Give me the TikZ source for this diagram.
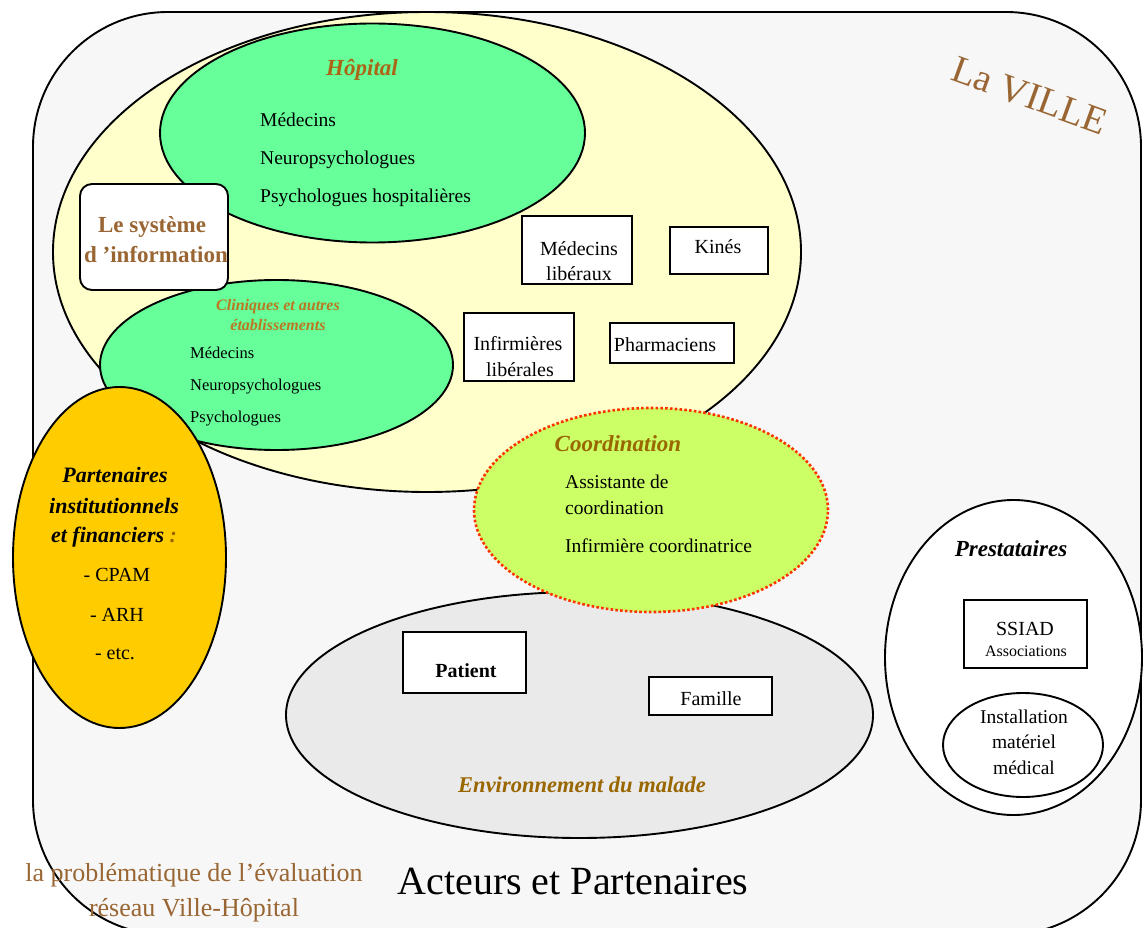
\documentclass[tikz,border=0pt]{standalone}
\usepackage{fontspec}
\setmainfont{Liberation Serif}
\usetikzlibrary{shapes.geometric}

\definecolor{framefill}{HTML}{F7F7F7}
\definecolor{cityyellow}{HTML}{FFFFCC}
\definecolor{mintgreen}{HTML}{66FF99}
\definecolor{gold}{HTML}{FFCC00}
\definecolor{limegreen}{HTML}{CCFF66}
\definecolor{envgray}{HTML}{EAEAEA}
\definecolor{dotred}{HTML}{FF3300}
\definecolor{brownA}{HTML}{996633}
\definecolor{brownB}{HTML}{AA6616}
\definecolor{brownC}{HTML}{BB7722}
\definecolor{olive}{HTML}{996600}

\newcommand\fsz[1]{\fontsize{#1}{#1}\selectfont}

\tikzset{
  oval/.style={ellipse, draw=black, line width=1.9pt, inner sep=0pt},
  boxnode/.style={rectangle, draw=black, fill=white, line width=1.9pt, inner sep=0pt},
  txt/.style={anchor=base, inner sep=0pt},
  txtw/.style={anchor=base west, inner sep=0pt},
}

\begin{document}
\begin{tikzpicture}[x=1pt, y=-1pt]
\useasboundingbox (0,0) rectangle (1143,928);

% the city frame
\node[rectangle, draw=black, fill=framefill, line width=1.9pt, rounded corners=135pt,
      minimum width=1108pt, minimum height=923pt, inner sep=0pt] (ville) at (587,473.5) {};

% city ellipse with the hospital and clinics
\node[oval, fill=cityyellow, minimum width=748pt, minimum height=480pt] (cite) at (427,252) {};
\node[oval, fill=mintgreen, minimum width=425pt, minimum height=219pt] (hopital) at (372.5,133) {};
\node[oval, fill=mintgreen, minimum width=353pt, minimum height=170pt] (cliniques) at (276.5,365) {};
\node[rectangle, draw=black, fill=white, line width=1.9pt, rounded corners=12pt,
      minimum width=148pt, minimum height=106pt, inner sep=0pt] (sysinfo) at (154,237) {};

% hospital
\node[txt, font=\fsz{23}\bfseries\itshape, text=brownB] (hoptitle) at (362,76) {Hôpital};
\node[txtw, font=\fsz{19.5}] (hop1) at (260,127) {Médecins};
\node[txtw, font=\fsz{19.5}] (hop2) at (260,165) {Neuropsychologues};
\node[txtw, font=\fsz{19.5}] (hop3) at (260,203) {Psychologues hospitalières};

% information system
\node[txt, font=\fsz{23}\bfseries, text=brownA] (sys1) at (152,233) {Le système};
\node[txt, font=\fsz{23}\bfseries, text=brownA] (sys2) at (156,262) {d ’information};

% clinics
\node[txt, font=\fsz{16}\bfseries\itshape, text=brownC] (cli1) at (278,310) {Cliniques et autres};
\node[txt, font=\fsz{16}\bfseries\itshape, text=brownC] (cli2) at (278,330) {établissements};
\node[txtw, font=\fsz{16.5}] (cli3) at (190,358) {Médecins};
\node[txtw, font=\fsz{16.5}] (cli4) at (190,390) {Neuropsychologues};
\node[txtw, font=\fsz{16.5}] (cli5) at (190,422) {Psychologues};

% private practitioners
\node[boxnode, minimum width=110pt, minimum height=68pt] (medlib) at (577,250) {};
\node[txt, font=\fsz{20}] (medlib1) at (579,255) {Médecins};
\node[txt, font=\fsz{20}] (medlib2) at (579,280) {libéraux};
\node[boxnode, minimum width=98pt, minimum height=47pt] (kines) at (719,250.5) {};
\node[txt, font=\fsz{20}] (kines1) at (718,254) {Kinés};
\node[boxnode, minimum width=110pt, minimum height=68pt] (inflib) at (519,347) {};
\node[txt, font=\fsz{20}] (inflib1) at (518,350) {Infirmières};
\node[txt, font=\fsz{20}] (inflib2) at (520,376) {libérales};
\node[boxnode, minimum width=124pt, minimum height=40pt] (pharma) at (672,343) {};
\node[txt, font=\fsz{20}] (pharma1) at (665,351) {Pharmaciens};

% institutional partners
\node[oval, fill=gold, minimum width=213pt, minimum height=341pt] (partenaires) at (119.5,557.5) {};
\node[txt, font=\fsz{22}\bfseries\itshape] (part1) at (115,482) {Partenaires};
\node[txt, font=\fsz{22}\bfseries\itshape] (part2) at (114,513) {institutionnels};
\node[txt, font=\fsz{22}\bfseries\itshape] (part3) at (114,542) {et financiers~\textcolor{olive}{:}};
\node[txt, font=\fsz{20}] (part4) at (117,581) {- CPAM};
\node[txt, font=\fsz{20}] (part5) at (117,621) {- ARH};
\node[txt, font=\fsz{20}] (part6) at (115,659) {- etc.};

% patient environment
\node[oval, fill=envgray, minimum width=587pt, minimum height=246pt] (environ) at (579.5,715) {};
\node[boxnode, minimum width=123pt, minimum height=61pt] (patient) at (464.5,662.5) {};
\node[txt, font=\fsz{20}\bfseries] (patient1) at (466,677) {Patient};
\node[boxnode, minimum width=123pt, minimum height=38pt] (famille) at (710.5,696) {};
\node[txt, font=\fsz{20}] (famille1) at (711,705) {Famille};
\node[txt, font=\fsz{22.5}\bfseries\itshape, text=olive] (envtitle) at (582,792) {Environnement du malade};

% coordination
\node[ellipse, fill=limegreen, draw=dotred, line width=2.6pt, dash pattern=on 2.6pt off 2.2pt,
      inner sep=0pt, minimum width=354pt, minimum height=204pt] (coord) at (651,510) {};
\node[txt, font=\fsz{23}\bfseries\itshape, text=olive] (coordtitle) at (618,451) {Coordination};
\node[txtw, font=\fsz{19.5}] (coord1) at (565,488) {Assistante de};
\node[txtw, font=\fsz{19.5}] (coord2) at (565,514) {coordination};
\node[txtw, font=\fsz{19.5}] (coord3) at (565,552) {Infirmière coordinatrice};

% service providers
\node[oval, fill=white, minimum width=257pt, minimum height=315pt] (prest) at (1013.5,657.5) {};
\node[txt, font=\fsz{23}\bfseries\itshape] (presttitle) at (1011,556) {Prestataires};
\node[boxnode, minimum width=123pt, minimum height=68pt] (ssiad) at (1025.5,634) {};
\node[txt, font=\fsz{20}] (ssiad1) at (1025,635) {SSIAD};
\node[txt, font=\fsz{16}] (ssiad2) at (1026,656) {Associations};
\node[oval, fill=white, minimum width=160pt, minimum height=104pt] (install) at (1023,745) {};
\node[txt, font=\fsz{19.5}] (inst1) at (1024,723) {Installation};
\node[txt, font=\fsz{19.5}] (inst2) at (1024,748) {matériel};
\node[txt, font=\fsz{19.5}] (inst3) at (1024,774) {médical};

% titles
\node[txt, font=\fsz{38.5}, text=brownA, rotate=-20] (villetitle) at (1025.5,107.5) {La VILLE};
\node[txt, font=\fsz{26}, text=brownA] (foot1) at (194,881) {la problématique de l’évaluation};
\node[txt, font=\fsz{26}, text=brownA] (foot2) at (194,916) {réseau Ville-Hôpital};
\node[txt, font=\fsz{40}] (acteurs) at (573,894) {Acteurs et Partenaires};
\end{tikzpicture}
\end{document}
